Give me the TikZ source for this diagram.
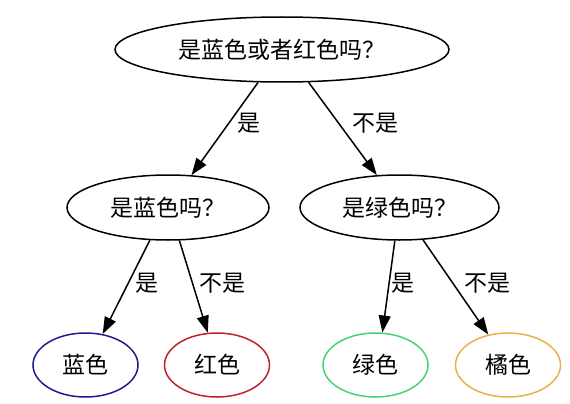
\documentclass[tikz,border=0pt]{standalone}
\usepackage{fontspec}
\setmainfont{Noto Sans CJK SC}
\usetikzlibrary{arrows.meta,shapes.geometric}
\definecolor{leafblue}{RGB}{28,28,140}
\definecolor{leafred}{RGB}{192,32,42}
\definecolor{leafgreen}{RGB}{70,212,112}
\definecolor{leaforange}{RGB}{228,178,72}

\begin{document}
\begin{tikzpicture}[x=1pt,y=-1pt,>={Triangle[length=17pt,width=12pt]},
  line width=1.5pt,
  main node/.style={ellipse,draw,inner sep=0pt,minimum height=65pt,font=\fontsize{23}{27}\selectfont},
  leaf node/.style={main node,minimum width=105pt,minimum height=64pt},
  lbl/.style={anchor=west,inner sep=0pt,font=\fontsize{23}{27}\selectfont}]

  \useasboundingbox (0,0) rectangle (570,404);

  \node[main node,minimum width=334pt] (root) at (282,49.5) {是蓝色或者红色吗？};
  \node[main node,minimum width=202pt] (blueq) at (168,207.5) {是蓝色吗？};
  \node[main node,minimum width=199pt] (greenq) at (399.5,207.5) {是绿色吗？};
  \node[leaf node,draw=leafblue] (blue) at (85.5,365) {蓝色};
  \node[leaf node,draw=leafred] (red) at (217,365) {红色};
  \node[leaf node,draw=leafgreen] (green) at (375.5,365) {绿色};
  \node[leaf node,draw=leaforange] (orange) at (508,365) {橘色};

  \path[->]
    (root.234) edge node[lbl,pos=0.44,xshift=8pt] {是} (blueq.54)
    (root.309) edge node[lbl,pos=0.44,xshift=13pt] {不是} (greenq.125)
    (blueq.241) edge node[lbl,pos=0.46,xshift=7pt] {是} (blue.61)
    (blueq.289) edge node[lbl,pos=0.46,xshift=6pt] {不是} (red.106)
    (greenq.262) edge node[lbl,pos=0.46,xshift=2pt] {是} (green.78)
    (greenq.306) edge node[lbl,pos=0.46,xshift=11pt] {不是} (orange.123);

\end{tikzpicture}
\end{document}
